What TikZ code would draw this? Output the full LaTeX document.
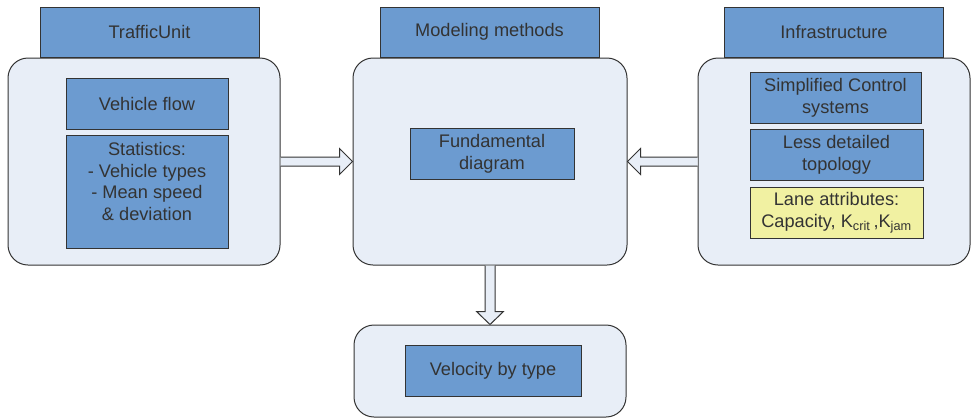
\documentclass[tikz,border=0pt]{standalone}
\usepackage{fontspec}
\setmainfont{Liberation Sans}
\usetikzlibrary{calc,positioning}

\definecolor{headblue}{RGB}{108,155,208}
\definecolor{paleblue}{RGB}{232,238,247}
\definecolor{laneyellow}{RGB}{241,241,162}
\definecolor{edgegray}{RGB}{51,51,51}

\tikzset{
  panel/.style={draw=edgegray, fill=paleblue, line width=1pt, rounded corners=20pt, inner sep=0pt},
  header/.style={draw=edgegray, fill=headblue, line width=1pt, minimum width=219pt, minimum height=50pt, inner sep=0pt},
  bluebox/.style={draw=edgegray, fill=headblue, line width=1pt, inner sep=0pt, align=center},
  yellowbox/.style={bluebox, fill=laneyellow},
  blockarrow/.style={draw=edgegray, fill=paleblue, line width=1pt, line join=miter}
}

\begin{document}
\begin{tikzpicture}[x=1pt, y=-1pt, every node/.style={font=\fontsize{18.2}{21.8}\selectfont, text=edgegray}]

    \useasboundingbox (0,0) rectangle (971,418);

    % Panels
    \node[panel, minimum width=272pt, minimum height=207pt] (traffic) at (144,161.5) {};
    \node[panel, minimum width=274pt, minimum height=207pt] (model) at (490,161.5) {};
    \node[panel, minimum width=272pt, minimum height=207pt] (infra) at (834,161.5) {};
    \node[panel, minimum width=272pt, minimum height=92pt] (velo) at (490,371) {};

    % Headers
    \node[header] (trafficHead) at (149.5,32) {TrafficUnit};
    \node[header] (modelHead) at (489.5,32) {Modeling methods};
    \node[header] (infraHead) at (834,32) {Infrastructure};

    % Traffic unit
    \node[bluebox, minimum width=162pt, minimum height=51pt] (flow) at (147,103.5) {Vehicle flow};
    \node[bluebox, minimum width=162pt, minimum height=113pt, anchor=north] (stats) at (147,135) {};
    \node[anchor=north, align=center, inner xsep=0pt, inner ysep=7pt] (statsText) at (stats.north)
        {Statistics:\\- Vehicle types\\- Mean speed\\\& deviation};

    % Modeling methods
    \node[bluebox, minimum width=164pt, minimum height=51pt] (fund) at (492,153.5) {Fundamental\\diagram};

    % Infrastructure
    \node[bluebox, minimum width=171pt, minimum height=51pt] (control) at (835.5,97.5) {Simplified Control\\systems};
    \node[bluebox, minimum width=173pt, minimum height=51pt] (topo) at (836.5,154.5) {Less detailed\\topology};
    \node[yellowbox, minimum width=173pt, minimum height=51pt] (lane) at (836.5,212.5)
        {Lane attributes:\\Capacity, K\textsubscript{crit}\,,K\textsubscript{jam}};

    % Output
    \node[bluebox, minimum width=176pt, minimum height=51pt] (speed) at (493,370.5) {Velocity by type};

    % Block arrows
    \draw[blockarrow] ($(traffic.east)+(0,-4.5)$) -- ($(model.west)+(-13,-4.5)$) -- ($(model.west)+(-13,-13)$)
        -- (model.west) -- ($(model.west)+(-13,13)$) -- ($(model.west)+(-13,4.5)$) -- ($(traffic.east)+(0,4.5)$);
    \draw[blockarrow] ($(infra.west)+(0,-4.5)$) -- ($(model.east)+(13,-4.5)$) -- ($(model.east)+(13,-13)$)
        -- (model.east) -- ($(model.east)+(13,13)$) -- ($(model.east)+(13,4.5)$) -- ($(infra.west)+(0,4.5)$);
    \draw[blockarrow] ($(model.south)+(-5,0)$) -- ($(velo.north)+(-5,-13)$) -- ($(velo.north)+(-13.5,-13)$)
        -- (velo.north) -- ($(velo.north)+(13.5,-13)$) -- ($(velo.north)+(5,-13)$) -- ($(model.south)+(5,0)$);

\end{tikzpicture}
\end{document}
